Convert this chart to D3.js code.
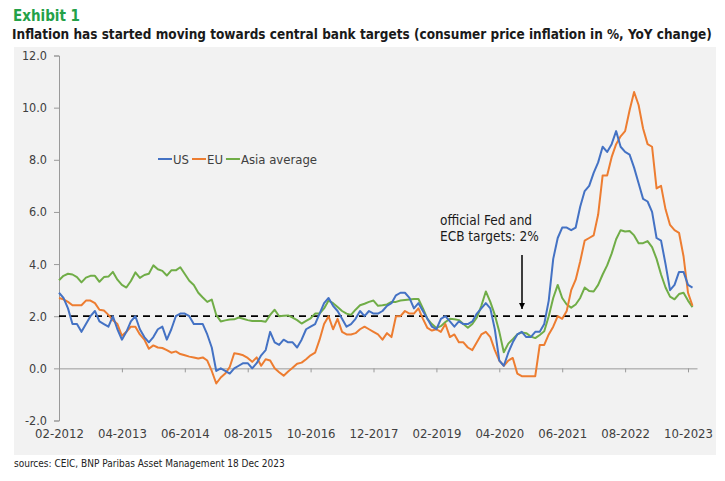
<!DOCTYPE html>
<html>
<head>
<meta charset="utf-8">
<script src="https://cdn.jsdelivr.net/npm/d3@7"></script>
<style>
  html, body { margin: 0; padding: 0; background: #ffffff; }
  svg { display: block; }
  text { font-family: "Liberation Sans Narrow", "DejaVu Sans Condensed", "Roboto", sans-serif; }
</style>
</head>
<body>
<svg id="chart" width="725" height="481"></svg>
<script>
'use strict';

////////// Data //////////
// monthly, 02-2012 .. 11-2023
const seriesNames = ['US', 'EU', 'Asia average'];

const usValues = [
	2.9, 2.7, 2.3, 1.7, 1.7, 1.4, 1.7, 2.0, 2.2, 1.8, 1.7,
	1.6, 2.0, 1.5, 1.1, 1.4, 1.8, 2.0, 1.5, 1.2, 1.0, 1.2, 1.5,
	1.6, 1.1, 1.5, 2.0, 2.1, 2.1, 2.0, 1.7, 1.7, 1.7, 1.3, 0.8,
	-0.1, 0.0, -0.1, -0.2, 0.0, 0.1, 0.2, 0.2, 0.0, 0.2, 0.5, 0.7,
	1.4, 1.0, 0.9, 1.1, 1.0, 1.0, 0.8, 1.1, 1.5, 1.6, 1.7, 2.1,
	2.5, 2.7, 2.4, 2.2, 1.9, 1.6, 1.7, 1.9, 2.2, 2.0, 2.2, 2.1,
	2.1, 2.2, 2.4, 2.5, 2.8, 2.9, 2.9, 2.7, 2.3, 2.5, 2.2, 1.9,
	1.6, 1.5, 1.9, 2.0, 1.8, 1.6, 1.8, 1.7, 1.7, 1.8, 2.1, 2.3,
	2.5, 2.3, 1.5, 0.3, 0.1, 0.6, 1.0, 1.3, 1.4, 1.2, 1.2, 1.4,
	1.4, 1.7, 2.6, 4.2, 5.0, 5.4, 5.4, 5.3, 5.4, 6.2, 6.8, 7.0,
	7.5, 7.9, 8.5, 8.3, 8.6, 9.1, 8.5, 8.3, 8.2, 7.7, 7.1, 6.5,
	6.4, 6.0, 5.0, 4.9, 4.0, 3.0, 3.2, 3.7, 3.7, 3.2, 3.1
];

const euValues = [
	2.7, 2.65, 2.55, 2.42, 2.42, 2.42, 2.6, 2.6, 2.5, 2.25, 2.22, 2.05,
	1.85, 1.7, 1.25, 1.4, 1.6, 1.6, 1.3, 1.1, 0.75, 0.88, 0.8, 0.78,
	0.7, 0.6, 0.65, 0.55, 0.5, 0.45, 0.42, 0.38, 0.42, 0.3, -0.1, -0.58,
	-0.35, -0.2, 0.05, 0.58, 0.55, 0.5, 0.4, 0.25, 0.42, 0.1, 0.35, 0.3,
	0.0, -0.15, -0.28, -0.12, 0.02, 0.18, 0.22, 0.35, 0.5, 0.6, 1.1, 1.7,
	2.0, 1.5, 1.9, 1.4, 1.3, 1.3, 1.35, 1.5, 1.6, 1.5, 1.4, 1.3,
	1.1, 1.35, 1.2, 2.0, 2.0, 2.2, 2.1, 2.1, 2.3, 1.9, 1.55, 1.45,
	1.5, 1.4, 1.7, 1.2, 1.3, 1.0, 1.0, 0.8, 0.7, 1.0, 1.3, 1.4,
	1.2, 0.7, 0.3, 0.1, 0.3, 0.4, -0.2, -0.3, -0.3, -0.3, -0.3, 0.9,
	0.9, 1.3, 1.6, 2.0, 1.9, 2.2, 3.0, 3.4, 4.1, 4.9, 5.0, 5.1,
	5.9, 7.4, 7.4, 8.1, 8.6, 8.9, 9.1, 9.9, 10.6, 10.1, 9.2, 8.6,
	8.5, 6.9, 7.0, 6.1, 5.5, 5.3, 5.2, 4.3, 2.9, 2.4
];

const asiaValues = [
	3.38, 3.55, 3.63, 3.6, 3.5, 3.3, 3.48, 3.55, 3.55, 3.32, 3.5, 3.52,
	3.7, 3.4, 3.2, 3.1, 3.35, 3.68, 3.47, 3.58, 3.63, 3.95, 3.8, 3.74,
	3.56, 3.76, 3.76, 3.88, 3.62, 3.36, 3.2, 2.9, 2.72, 2.55, 2.64, 2.05,
	1.8, 1.84, 1.87, 1.88, 1.95, 1.9, 1.85, 1.82, 1.82, 1.82, 1.79, 2.05,
	2.25, 2.0, 2.02, 2.03, 1.95, 1.85, 1.72, 1.82, 1.92, 2.1, 2.1, 2.3,
	2.6, 2.5, 2.35, 2.2, 2.1, 2.05, 2.25, 2.42, 2.48, 2.55, 2.6, 2.4,
	2.42, 2.45, 2.55, 2.55, 2.6, 2.62, 2.64, 2.66, 2.66, 2.3, 1.9, 1.7,
	1.55, 1.62, 1.78, 1.9, 1.88, 1.85, 1.7, 1.56, 1.7, 1.95, 2.4, 2.95,
	2.55, 2.05, 1.4, 0.62, 0.95, 1.12, 1.3, 1.38, 1.35, 1.22, 1.16, 1.28,
	1.42, 2.0, 2.7, 3.2, 2.7, 2.45, 2.33, 2.45, 2.7, 3.1, 2.97, 2.95,
	3.2, 3.6, 3.95, 4.4, 4.95, 5.3, 5.25, 5.27, 5.1, 4.8, 4.8, 4.88,
	4.65, 4.2, 3.6, 3.1, 2.75, 2.65, 2.85, 2.9, 2.6, 2.35
];

const months = d3.timeMonth.range(new Date(2012, 1, 1), new Date(2023, 11, 1)).map(d3.timeFormat('%m-%Y'));
const xTickLabels = ['02-2012', '04-2013', '06-2014', '08-2015', '10-2016', '12-2017', '02-2019', '04-2020', '06-2021', '08-2022', '10-2023'];
const yTicks = [-2, 0, 2, 4, 6, 8, 10, 12];
const targetValue = 2;

////////// Layout //////////
const colors = ['#4472c4', '#ed7d31', '#70ad47'];
const textColor = '#404040';
const axisColor = '#9a9a9a';
const tickFont = '12.5px';

const svg = d3.select('#chart');

svg.append('rect')
	.attr('x', 14).attr('y', 47)
	.attr('width', 702).attr('height', 408)
	.attr('fill', '#f2f2f2');

// heading
svg.append('text')
	.attr('x', 13).attr('y', 21)
	.attr('fill', '#24a148')
	.style('font-weight', 'bold').style('font-size', '15px')
	.text('Exhibit 1');

// fit title into the width by font size (no stretching)
const title = svg.append('text')
	.attr('x', 12).attr('y', 39)
	.attr('fill', '#1a1a1a')
	.style('font-weight', 'bold').style('font-size', '16px')
	.text('Inflation has started moving towards central bank targets (consumer price inflation in %, YoY change)');
const titleLen = title.node().getComputedTextLength();
if (titleLen > 700) title.style('font-size', (16 * 700 / titleLen).toFixed(2) + 'px');

// scales
const x = d3.scaleLinear().domain([0, months.length]).range([59, 697]);
const y = d3.scaleLinear().domain([-2, 12]).range([420.5, 55.5]);

// y axis
const yAxis = svg.append('g')
	.attr('transform', `translate(${x(0)},0)`)
	.call(d3.axisLeft(y).tickValues(yTicks).tickSize(5).tickPadding(7)
		.tickFormat(d => d3.format('.1f')(d).replace('\u2212', '-')));
yAxis.select('.domain').attr('stroke', axisColor);
yAxis.selectAll('.tick line').attr('stroke', axisColor);
yAxis.selectAll('.tick text').attr('fill', textColor).style('font-size', tickFont).style('font-family', null);

// x axis at zero, ticks only
const xAxis = svg.append('g')
	.attr('transform', `translate(0,${y(0)})`)
	.call(d3.axisBottom(x).tickValues(xTickLabels.map(l => months.indexOf(l)))
		.tickSize(4).tickSizeOuter(0).tickFormat(''));
xAxis.select('.domain').attr('stroke', axisColor);
xAxis.selectAll('.tick line').attr('stroke', axisColor);

// x labels at the bottom
const xLabels = svg.append('g')
	.attr('transform', 'translate(0,426)')
	.call(d3.axisBottom(x).tickValues(xTickLabels.map(l => months.indexOf(l)))
		.tickSize(0).tickPadding(3).tickFormat(i => months[i]));
xLabels.select('.domain').remove();
xLabels.selectAll('.tick text').attr('fill', textColor).style('font-size', '13px').style('font-family', null);

// target line
svg.append('line')
	.attr('x1', x(0)).attr('x2', x(140))
	.attr('y1', y(targetValue)).attr('y2', y(targetValue))
	.attr('stroke', '#000').attr('stroke-width', 1.8)
	.attr('stroke-dasharray', '7,5');

// series (Asia, EU, then US on top)
const line = d3.line().x((d, i) => x(i)).y(d => y(d));
const seriesValues = [usValues, euValues, asiaValues];
[2, 1, 0].forEach(k => {
	svg.append('path')
		.datum(seriesValues[k])
		.attr('fill', 'none')
		.attr('stroke', colors[k])
		.attr('stroke-width', 2)
		.attr('stroke-linejoin', 'round')
		.attr('d', line);
});

// legend
const legend = svg.append('g').attr('transform', 'translate(158,159)');
let lx = 0;
seriesNames.forEach((name, k) => {
	legend.append('line')
		.attr('x1', lx).attr('x2', lx + 14)
		.attr('stroke', colors[k]).attr('stroke-width', 2);
	const t = legend.append('text')
		.attr('x', lx + 15).attr('y', 4.5)
		.attr('fill', textColor).style('font-size', '13px')
		.text(name);
	lx += 15 + t.node().getComputedTextLength() + 3;
});

// annotation
const note = svg.append('g').attr('fill', '#1a1a1a').style('font-size', '13.5px');
note.append('text').attr('x', 440).attr('y', 225).text('official Fed and');
note.append('text').attr('x', 440).attr('y', 241).text('ECB targets: 2%');

svg.append('defs').append('marker')
	.attr('id', 'arrow').attr('viewBox', '0 0 10 10')
	.attr('refX', 10).attr('refY', 5)
	.attr('markerWidth', 4).attr('markerHeight', 4)
	.attr('orient', 'auto')
	.append('path').attr('d', 'M0,0 L10,5 L0,10 z').attr('fill', '#000');
svg.append('line')
	.attr('x1', 522).attr('x2', 522)
	.attr('y1', 255).attr('y2', 309)
	.attr('stroke', '#000').attr('stroke-width', 1.5)
	.attr('marker-end', 'url(#arrow)');

// source
svg.append('text')
	.attr('x', 14).attr('y', 467)
	.attr('fill', '#222')
	.style('font-size', '10px')
	.text('sources: CEIC, BNP Paribas Asset Management  18 Dec 2023');
</script>
</body>
</html>
